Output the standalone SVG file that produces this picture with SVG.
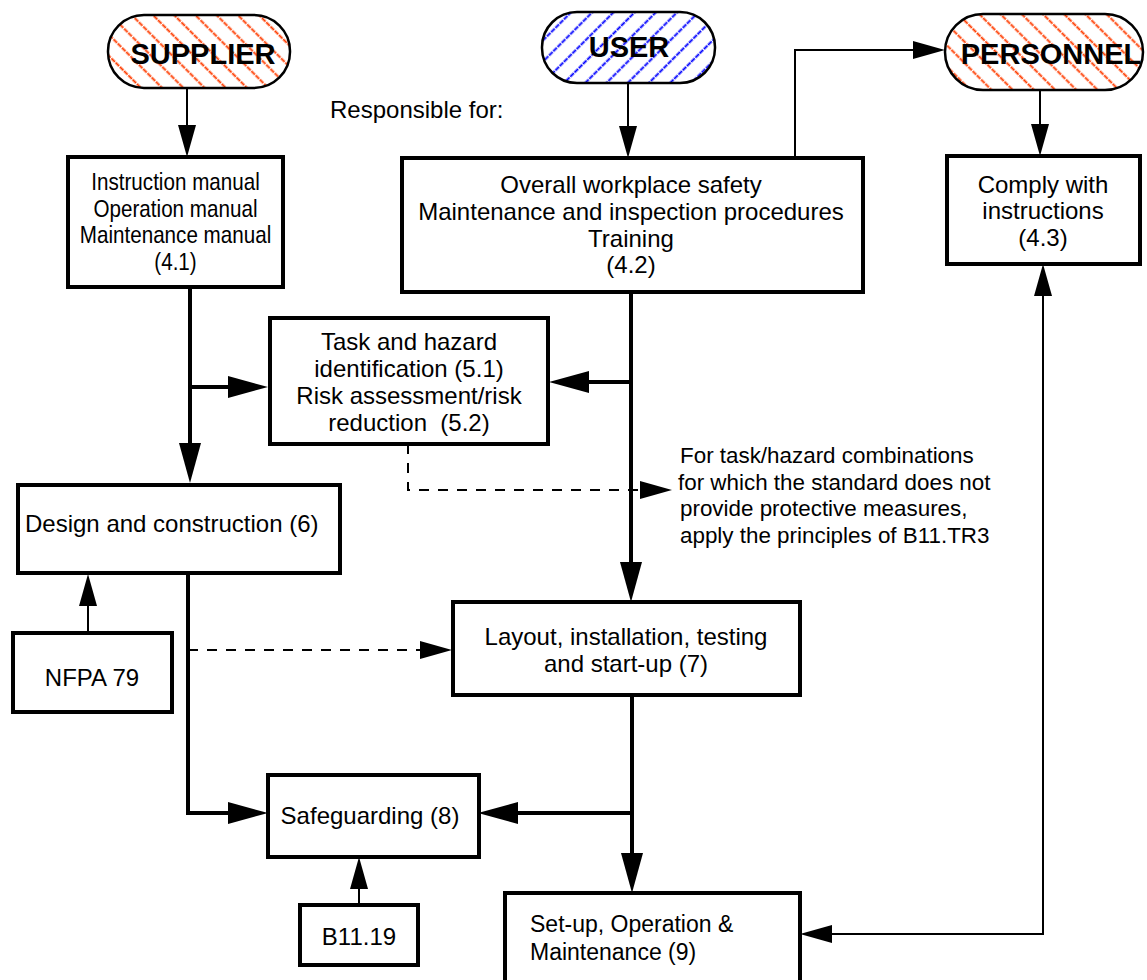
<svg xmlns="http://www.w3.org/2000/svg" width="1147" height="980" viewBox="0 0 1147 980">
<style>
  text { font-family: "Liberation Sans", Arial, Helvetica, sans-serif; font-size: 24px; fill: #000; }
  .term { font-weight: bold; font-size: 29px; text-anchor: middle; }
  .mid { text-anchor: middle; }
  .note { font-size: 22.4px; }
  .box { fill: #fff; stroke: #000; stroke-width: 4; }
  .pill { stroke: #000; stroke-width: 2.5; }
  .thick { fill: none; stroke: #000; stroke-width: 4; }
  .thin { fill: none; stroke: #000; stroke-width: 2; }
  .dash { fill: none; stroke: #000; stroke-width: 2; stroke-dasharray: 10 9; }
</style>
<defs>
  <pattern id="hatchRed" patternUnits="userSpaceOnUse" width="15" height="18" patternTransform="rotate(-45)">
    <line x1="7.5" y1="0" x2="7.5" y2="18" stroke="#ff3c00" stroke-width="1.9" stroke-dasharray="5 1"/>
  </pattern>
  <pattern id="hatchBlue" patternUnits="userSpaceOnUse" width="15" height="18" patternTransform="rotate(45)">
    <line x1="7.5" y1="0" x2="7.5" y2="18" stroke="#0000ff" stroke-width="1.9" stroke-dasharray="5 1"/>
  </pattern>
  <marker id="ahThick" viewBox="0 0 40 22" refX="32" refY="11" markerWidth="40" markerHeight="22" markerUnits="userSpaceOnUse" orient="auto-start-reverse">
    <path d="M0,0 L40,11 L0,22 z" fill="#000"/>
  </marker>
  <marker id="ahThin" viewBox="0 0 32 18" refX="28" refY="9" markerWidth="32" markerHeight="18" markerUnits="userSpaceOnUse" orient="auto-start-reverse">
    <path d="M0,0 L32,9 L0,18 z" fill="#000"/>
  </marker>
</defs>
<rect width="1147" height="980" fill="#fff"/>

<g id="connectors">
  <path class="thin" d="M187,88 V153" marker-end="url(#ahThin)"/>
  <path class="thin" d="M628,83 V154" marker-end="url(#ahThin)"/>
  <path class="thin" d="M1040,90 V152" marker-end="url(#ahThin)"/>
  <path class="thin" d="M795,158 V50 H941" marker-end="url(#ahThin)"/>
  <path class="thick" d="M190,287 V475" marker-end="url(#ahThick)"/>
  <path class="thick" d="M190,387 H260" marker-end="url(#ahThick)"/>
  <path class="thick" d="M631,292 V594" marker-end="url(#ahThick)"/>
  <path class="thick" d="M631,382 H557" marker-end="url(#ahThick)"/>
  <path class="dash" d="M408,444 V490 H668" marker-end="url(#ahThin)"/>
  <path class="thin" d="M88,633 V578" marker-end="url(#ahThin)"/>
  <path class="dash" d="M188,650 H448" marker-end="url(#ahThin)"/>
  <path class="thick" d="M188,573 V813 H260" marker-end="url(#ahThick)"/>
  <path class="thick" d="M632,695 V885" marker-end="url(#ahThick)"/>
  <path class="thick" d="M632,813 H486" marker-end="url(#ahThick)"/>
  <path class="thin" d="M359,905 V861" marker-end="url(#ahThin)"/>
  <path class="thin" d="M804,934 H1043 V268" marker-start="url(#ahThin)" marker-end="url(#ahThin)"/>
</g>

<g id="supplier">
  <rect class="pill" x="108" y="15" width="182" height="73" rx="36" fill="url(#hatchRed)"/>
  <text class="term" x="203" y="64">SUPPLIER</text>
</g>
<g id="user">
  <rect class="pill" x="542" y="12" width="173" height="71" rx="35" fill="url(#hatchBlue)"/>
  <text class="term" x="629" y="57">USER</text>
</g>
<g id="personnel">
  <rect class="pill" x="945" y="14" width="198" height="76" rx="38" fill="url(#hatchRed)"/>
  <text class="term" x="1051" y="64">PERSONNEL</text>
</g>

<g id="responsible">
  <text x="330" y="118">Responsible for:</text>
</g>

<g id="instruction">
  <rect class="box" x="68" y="157" width="215" height="130"/>
  <g transform="translate(175.5,0) scale(0.86,1)">
    <text class="mid" x="0" y="190">Instruction manual</text>
    <text class="mid" x="0" y="217">Operation manual</text>
    <text class="mid" x="0" y="243">Maintenance manual</text>
    <text class="mid" x="0" y="270">(4.1)</text>
  </g>
</g>

<g id="overall">
  <rect class="box" x="402" y="158" width="461" height="134"/>
  <text class="mid" x="631" y="193">Overall workplace safety</text>
  <text class="mid" x="631" y="220">Maintenance and inspection procedures</text>
  <text class="mid" x="631" y="247">Training</text>
  <text class="mid" x="631" y="273">(4.2)</text>
</g>

<g id="comply">
  <rect class="box" x="947" y="156" width="193" height="108"/>
  <text class="mid" x="1043" y="193">Comply with</text>
  <text class="mid" x="1043" y="219">instructions</text>
  <text class="mid" x="1043" y="246">(4.3)</text>
</g>

<g id="task">
  <rect class="box" x="270" y="318" width="278" height="126"/>
  <text class="mid" x="409" y="350">Task and hazard</text>
  <text class="mid" x="409" y="377">identification (5.1)</text>
  <text class="mid" x="409" y="404">Risk assessment/risk</text>
  <text class="mid" x="409" y="431" xml:space="preserve">reduction  (5.2)</text>
</g>

<g id="note">
  <text class="note" x="680" y="463">For task/hazard combinations</text>
  <text class="note" x="678" y="490">for which the standard does not</text>
  <text class="note" x="680" y="516">provide protective measures,</text>
  <text class="note" x="680" y="543">apply the principles of B11.TR3</text>
</g>

<g id="design">
  <rect class="box" x="18" y="485" width="322" height="88"/>
  <text x="25" y="532">Design and construction (6)</text>
</g>

<g id="nfpa">
  <rect class="box" x="13" y="633" width="159" height="79"/>
  <text class="mid" x="92" y="686">NFPA 79</text>
</g>

<g id="layout">
  <rect class="box" x="453" y="602" width="347" height="93"/>
  <text class="mid" x="626" y="645">Layout, installation, testing</text>
  <text class="mid" x="626" y="672">and start-up (7)</text>
</g>

<g id="safeguarding">
  <rect class="box" x="268" y="775" width="211" height="82"/>
  <text class="mid" x="370" y="824">Safeguarding (8)</text>
</g>

<g id="b1119">
  <rect class="box" x="300" y="905" width="118" height="60"/>
  <text class="mid" x="359" y="945">B11.19</text>
</g>

<g id="setup">
  <rect class="box" x="505" y="893" width="295" height="95"/>
  <text x="530" y="932" style="font-size:23px">Set-up, Operation &amp;</text>
  <text x="530" y="960" style="font-size:23px">Maintenance (9)</text>
</g>
</svg>
